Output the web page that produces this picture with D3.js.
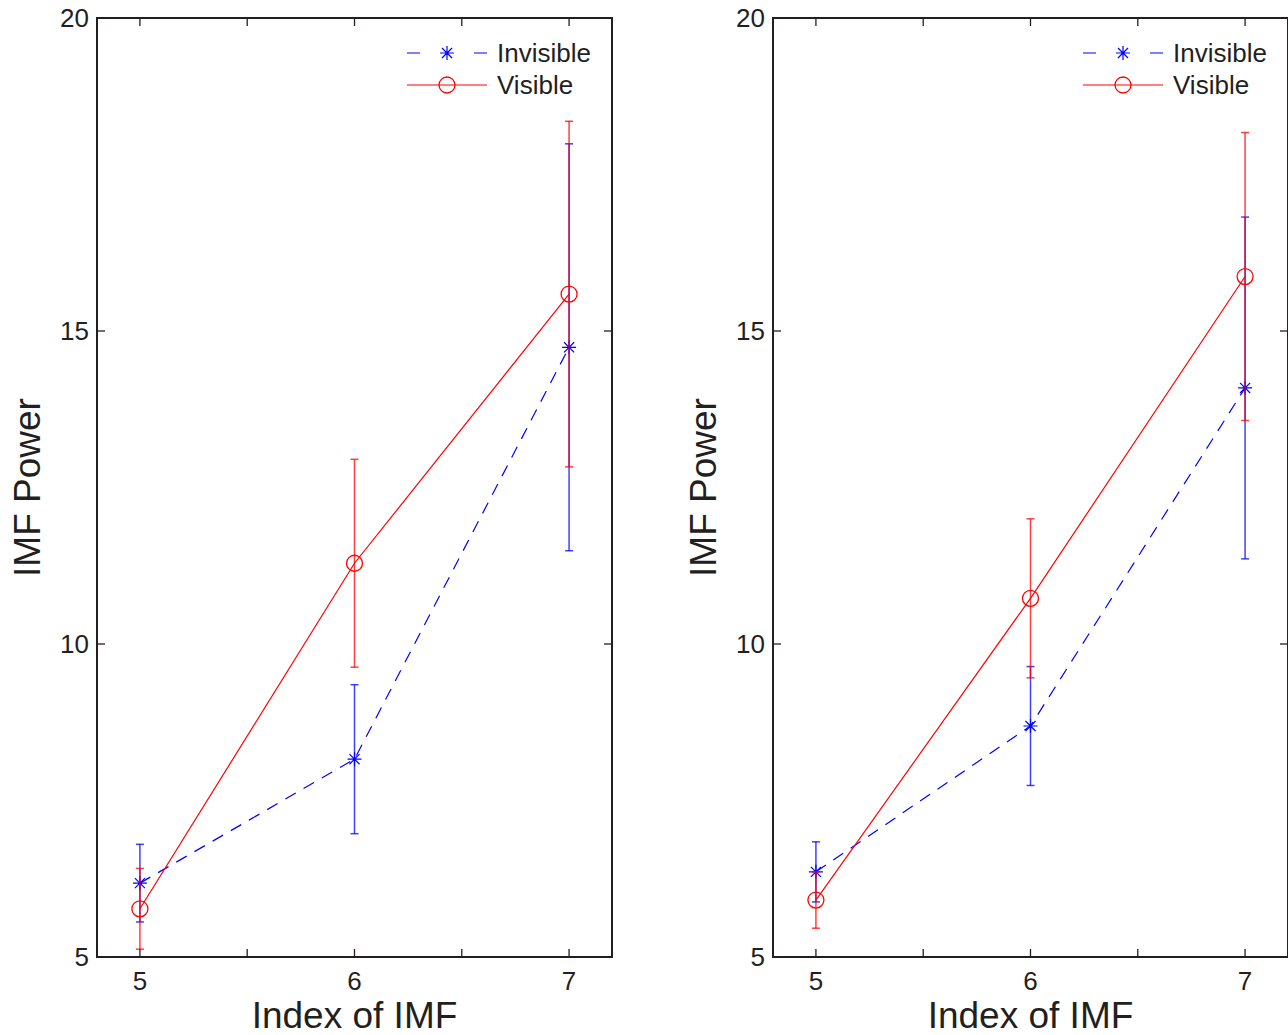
<!DOCTYPE html>
<html><head><meta charset="utf-8">
<script src="https://cdn.jsdelivr.net/npm/d3@7"></script>
<style>body{margin:0;background:#fff}svg text{font-family:"Liberation Sans",Arial,Helvetica,sans-serif;fill:#231f20}</style>
</head><body><svg id="c" width="1288" height="1035"></svg>
<script>
const xIndex = [5, 6, 7];
const xTicks = [5, 5.5, 6, 6.5, 7];
const yTicks = [5, 10, 15, 20];
const seriesNames = ["Invisible", "Visible"];
// left panel
const leftInvisibleMean = [6.18, 8.16, 14.74];
const leftInvisibleErr  = [0.62, 1.19, 3.25];
const leftVisibleMean   = [5.77, 11.29, 15.59];
const leftVisibleErr    = [0.645, 1.66, 2.76];
// right panel
const rightInvisibleMean = [6.36, 8.69, 14.09];
const rightInvisibleErr  = [0.48, 0.95, 2.73];
const rightVisibleMean   = [5.91, 10.73, 15.87];
const rightVisibleErr    = [0.45, 1.27, 2.30];
const xLabel = "Index of IMF";
const yLabel = "IMF Power";

(function(){
const svg = d3.select("#c");
const panels = [
  {left: 97, inv: [leftInvisibleMean, leftInvisibleErr], vis: [leftVisibleMean, leftVisibleErr]},
  {left: 773, inv: [rightInvisibleMean, rightInvisibleErr], vis: [rightVisibleMean, rightVisibleErr]}
];
const W = 515, topY = 18, botY = 957;
const BLUE = "#0000ff", RED = "#ff0000";

function star(g, x, y, color){
  const r = 7, d = r*0.72;
  const p = `M${x-r},${y}L${x+r},${y}M${x},${y-r}L${x},${y+r}M${x-d},${y-d}L${x+d},${y+d}M${x-d},${y+d}L${x+d},${y-d}`;
  g.append("path").attr("d", p).attr("stroke", color).attr("stroke-width", 1.2).attr("fill","none");
}
function circ(g, x, y, color){
  g.append("circle").attr("cx", x).attr("cy", y).attr("r", 8).attr("stroke", color).attr("stroke-width", 1.3).attr("fill","none");
}

panels.forEach(p => {
  const g = svg.append("g");
  const x = d3.scaleLinear().domain([4.8, 7.2]).range([p.left, p.left + W]);
  const y = d3.scaleLinear().domain([5, 20]).range([botY, topY]);

  const tk = 8;
  xTicks.forEach(t => {
    g.append("line").attr("x1", x(t)).attr("x2", x(t)).attr("y1", botY).attr("y2", botY - tk).attr("stroke","#231f20").attr("stroke-width",1.3);
    g.append("line").attr("x1", x(t)).attr("x2", x(t)).attr("y1", topY).attr("y2", topY + tk).attr("stroke","#231f20").attr("stroke-width",1.3);
    if (Number.isInteger(t)) g.append("text").attr("x", x(t)).attr("y", 990).attr("text-anchor","middle").attr("font-size", 26).text(t);
  });
  yTicks.forEach(t => {
    g.append("line").attr("x1", x.range()[0]).attr("x2", x.range()[0] + tk).attr("y1", y(t)).attr("y2", y(t)).attr("stroke","#231f20").attr("stroke-width",1.3);
    g.append("line").attr("x1", x.range()[1]).attr("x2", x.range()[1] - tk).attr("y1", y(t)).attr("y2", y(t)).attr("stroke","#231f20").attr("stroke-width",1.3);
    g.append("text").attr("x", p.left - 8).attr("y", y(t) + 9).attr("text-anchor","end").attr("font-size", 26).text(t);
  });
  g.append("rect").attr("x", p.left).attr("y", topY).attr("width", W).attr("height", botY - topY)
    .attr("fill","none").attr("stroke","#231f20").attr("stroke-width",2);

  g.append("text").attr("x", x(6)).attr("y", 1028).attr("text-anchor","middle").attr("font-size", 37).text(xLabel);
  g.append("text").attr("transform", `translate(${p.left - 57},${(topY+botY)/2}) rotate(-90)`).attr("text-anchor","middle").attr("font-size", 37).text(yLabel);

  const line = d3.line().x((d,i) => x(xIndex[i])).y(d => y(d));
  const drawSeries = (mean, err, color, dashed, marker) => {
    xIndex.forEach((xi, i) => {
      const cx = x(xi), y1 = y(mean[i] + err[i]), y2 = y(mean[i] - err[i]);
      const eg = g.append("g").attr("stroke", color).attr("stroke-opacity", 0.75).attr("stroke-width", 1.5);
      eg.append("line").attr("x1", cx).attr("x2", cx).attr("y1", y1).attr("y2", y2);
      eg.append("line").attr("x1", cx-4).attr("x2", cx+4).attr("y1", y1).attr("y2", y1);
      eg.append("line").attr("x1", cx-4).attr("x2", cx+4).attr("y1", y2).attr("y2", y2);
    });
    g.append("path").attr("d", line(mean)).attr("fill","none").attr("stroke", color).attr("stroke-width", 1.2)
      .attr("stroke-dasharray", dashed ? "12,9" : null);
    xIndex.forEach((xi, i) => marker(g, x(xi), y(mean[i]), color));
  };
  drawSeries(p.inv[0], p.inv[1], BLUE, true, star);
  drawSeries(p.vis[0], p.vis[1], RED, false, circ);

  const lx = p.left + W - 205;
  const rows = [{name: seriesNames[0], color: BLUE, dashed: true, marker: star, yy: 53},
                {name: seriesNames[1], color: RED, dashed: false, marker: circ, yy: 85}];
  rows.forEach(r => {
    g.append("line").attr("x1", lx).attr("x2", lx+80).attr("y1", r.yy).attr("y2", r.yy).attr("stroke", r.color).attr("stroke-width",1.2)
      .attr("stroke-dasharray", r.dashed ? "13,54,13" : null);
    r.marker(g, lx+40, r.yy, r.color);
    g.append("text").attr("x", lx + 90).attr("y", r.yy + 9).attr("font-size", 26).text(r.name);
  });
});
})();
</script></body></html>
